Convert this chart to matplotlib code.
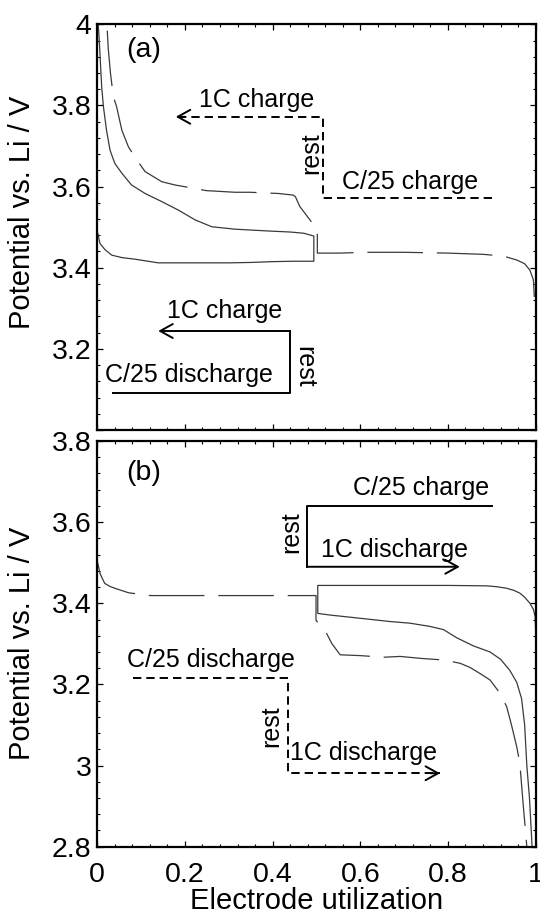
import matplotlib
matplotlib.use("Agg")
import matplotlib.pyplot as plt
from matplotlib.ticker import FixedLocator, AutoMinorLocator

plt.rcParams['font.family'] = ['Liberation Sans', 'DejaVu Sans']
plt.rcParams['lines.scale_dashes'] = False

# ---------------- data ----------------
# Panel (a) solid: C/25 discharge -> rest -> 1C charge
a_solid_x = [0.001, 0.006, 0.018, 0.033, 0.056, 0.086, 0.139, 0.20, 0.30, 0.35, 0.40, 0.45, 0.494,
             0.494,
             0.471, 0.44, 0.40, 0.348, 0.314, 0.261, 0.223, 0.185, 0.147, 0.109, 0.078, 0.056,
             0.040, 0.029, 0.021, 0.014, 0.010, 0.006, 0.004, 0.002]
a_solid_y = [3.485, 3.460, 3.444, 3.431, 3.425, 3.421, 3.412, 3.412, 3.412, 3.413, 3.415, 3.416, 3.416,
             3.478,
             3.485, 3.488, 3.490, 3.493, 3.495, 3.501, 3.518, 3.542, 3.563, 3.583, 3.604, 3.633,
             3.657, 3.690, 3.739, 3.797, 3.846, 3.929, 3.970, 4.000]

# Panel (a) dashed: C/25 charge -> rest -> 1C charge
a_dash_x = [0.997, 0.995, 0.987, 0.975, 0.957, 0.935, 0.923, 0.88, 0.80, 0.70, 0.62, 0.55, 0.505,
            0.502, 0.502,
            0.485, 0.462, 0.452, 0.447, 0.413, 0.348, 0.314, 0.249, 0.219, 0.177, 0.147, 0.109,
            0.090, 0.071, 0.056, 0.044, 0.0365, 0.030, 0.025, 0.022]
a_dash_y = [3.328, 3.370, 3.394, 3.410, 3.419, 3.426, 3.429, 3.433, 3.436, 3.438, 3.438, 3.436, 3.436,
            3.436, 3.493,
            3.518, 3.551, 3.575, 3.579, 3.583, 3.586, 3.586, 3.590, 3.596, 3.604, 3.612, 3.637,
            3.666, 3.698, 3.739, 3.797, 3.822, 3.880, 3.940, 4.000]

# Panel (b) solid: C/25 charge -> rest -> 1C discharge
b_solid_x = [1.0, 0.999, 0.995, 0.987, 0.975, 0.964, 0.95, 0.934, 0.91, 0.888, 0.80, 0.70, 0.60, 0.503,
             0.503,
             0.531, 0.60, 0.668, 0.713, 0.759, 0.79, 0.82, 0.858, 0.896, 0.92, 0.941, 0.957,
             0.968, 0.975, 0.980, 0.986, 0.992]
b_solid_y = [3.334, 3.367, 3.385, 3.400, 3.415, 3.425, 3.432, 3.437, 3.441, 3.443, 3.444, 3.444, 3.444, 3.444,
             3.375,
             3.371, 3.363, 3.355, 3.351, 3.343, 3.335, 3.315, 3.295, 3.280, 3.262, 3.235, 3.205,
             3.165, 3.100, 3.000, 2.920, 2.800]

# Panel (b) dashed: C/25 discharge -> rest -> 1C discharge
b_dash_x = [0.0, 0.003, 0.006, 0.012, 0.017, 0.028, 0.040, 0.071, 0.120, 0.20, 0.272, 0.348, 0.42, 0.489, 0.499,
            0.499,
            0.508, 0.523, 0.535, 0.554, 0.60, 0.653, 0.691, 0.74, 0.793, 0.828, 0.85, 0.873, 0.896,
            0.919, 0.934, 0.945, 0.957, 0.964, 0.972, 0.976, 0.980]
b_dash_y = [3.503, 3.490, 3.474, 3.460, 3.449, 3.442, 3.437, 3.426, 3.419, 3.419, 3.419, 3.419, 3.419, 3.419, 3.419,
            3.358,
            3.346, 3.326, 3.301, 3.273, 3.271, 3.267, 3.269, 3.264, 3.260, 3.252, 3.242, 3.227, 3.211,
            3.178, 3.145, 3.100, 3.046, 3.006, 2.900, 2.850, 2.800]

x_ticks = [0, 0.2, 0.4, 0.6, 0.8, 1.0]
x_tick_labels = ['0', '0.2', '0.4', '0.6', '0.8', '1']
a_y_ticks = [3.0, 3.2, 3.4, 3.6, 3.8, 4.0]
a_y_tick_labels = ['', '3.2', '3.4', '3.6', '3.8', '4']
b_y_ticks = [2.8, 3.0, 3.2, 3.4, 3.6, 3.8]
b_y_tick_labels = ['2.8', '3', '3.2', '3.4', '3.6', '3.8']

# ---------------- figure ----------------
W, H = 540, 916
fig = plt.figure(figsize=(W / 100, H / 100), dpi=100)
L, AW = 97.3 / W, 438.3 / W
ax1 = fig.add_axes([L, 1 - 430 / H, AW, 405.7 / H])
ax2 = fig.add_axes([L, 1 - 846.7 / H, AW, 405.7 / H])

curve_col = '#3a3a3a'
curve_lw = 0.9
long_dash = (40, 10)

ax1.plot(a_solid_x, a_solid_y, color=curve_col, lw=curve_lw)
ax1.plot(a_dash_x, a_dash_y, color=curve_col, lw=curve_lw, dashes=long_dash)
ax2.plot(b_solid_x, b_solid_y, color=curve_col, lw=curve_lw)
ax2.plot(b_dash_x, b_dash_y, color=curve_col, lw=curve_lw, dashes=long_dash)

tick_fs = 20.5
for ax, yt, ytl, ylim in [(ax1, a_y_ticks, a_y_tick_labels, (3.0, 4.0)),
                          (ax2, b_y_ticks, b_y_tick_labels, (2.8, 3.8))]:
    ax.set_xlim(0, 1)
    ax.set_ylim(*ylim)
    ax.xaxis.set_major_locator(FixedLocator(x_ticks))
    ax.yaxis.set_major_locator(FixedLocator(yt))
    ax.set_yticklabels(ytl)
    ax.xaxis.set_minor_locator(AutoMinorLocator(5))
    ax.yaxis.set_minor_locator(AutoMinorLocator(5))
    ax.tick_params(which='both', direction='in', top=True, right=True, labelsize=tick_fs)
    ax.tick_params(axis='y', pad=4)
    ax.tick_params(axis='x', pad=11)
    ax.tick_params(which='major', length=4, width=0.9)
    ax.tick_params(which='minor', length=2, width=0.8)
    for s in ax.spines.values():
        s.set_linewidth(1.6)
    ax.set_ylabel('Potential vs. Li / V', fontsize=21)

ax1.set_xticklabels([])
ax2.set_xticklabels(x_tick_labels)
ax2.set_xlabel('Electrode utilization', fontsize=21, labelpad=-1)
ax1.yaxis.set_label_coords(-0.14, 0.537)
ax2.yaxis.set_label_coords(-0.14, 0.5)

ax1.text(0.105, 3.937, '(a)', fontsize=20.5, ha='center', va='center')
ax2.text(0.105, 3.72, '(b)', fontsize=20.5, ha='center', va='center')

ann_fs = 18
ann_lw = 1.4
sdash = (6, 3.6)
head = dict(arrowstyle='->,head_length=0.45,head_width=0.25', lw=ann_lw, color='black',
            mutation_scale=20, shrinkA=0, shrinkB=0)


def arrow_head(ax, tip, tail):
    ax.annotate('', xy=tip, xytext=tail, arrowprops=head)


# Panel (a) dashed annotation: C/25 charge -> rest -> 1C charge
ax1.plot([0.900, 0.516, 0.516, 0.179], [3.571, 3.571, 3.772, 3.772], color='black', lw=ann_lw, dashes=sdash)
arrow_head(ax1, (0.179, 3.772), (0.20, 3.772))
ax1.text(0.363, 3.813, '1C charge', fontsize=ann_fs, ha='center', va='center')
ax1.text(0.487, 3.682, 'rest', fontsize=ann_fs, ha='center', va='center', rotation=90)
ax1.text(0.713, 3.612, 'C/25 charge', fontsize=ann_fs, ha='center', va='center')

# Panel (a) solid annotation: C/25 discharge -> rest -> 1C charge
ax1.annotate('', xy=(0.139, 3.244), xytext=(0.44, 3.244), arrowprops=head)
ax1.plot([0.0365, 0.44, 0.44], [3.092, 3.092, 3.244], color='black', lw=ann_lw)
ax1.text(0.29, 3.294, '1C charge', fontsize=ann_fs, ha='center', va='center')
ax1.text(0.472, 3.156, 'rest', fontsize=ann_fs, ha='center', va='center', rotation=270)
ax1.text(0.2095, 3.136, 'C/25 discharge', fontsize=ann_fs, ha='center', va='center')

# Panel (b) solid annotation: C/25 charge -> rest -> 1C discharge
ax2.plot([0.900, 0.478, 0.478], [3.640, 3.640, 3.490], color='black', lw=ann_lw)
ax2.annotate('', xy=(0.827, 3.490), xytext=(0.478, 3.490), arrowprops=head)
ax2.text(0.738, 3.683, 'C/25 charge', fontsize=ann_fs, ha='center', va='center')
ax2.text(0.443, 3.576, 'rest', fontsize=ann_fs, ha='center', va='center', rotation=90)
ax2.text(0.679, 3.531, '1C discharge', fontsize=ann_fs, ha='center', va='center')

# Panel (b) dashed annotation: C/25 discharge -> rest -> 1C discharge
ax2.plot([0.082, 0.436, 0.436, 0.782], [3.215, 3.215, 2.981, 2.981], color='black', lw=ann_lw, dashes=sdash)
arrow_head(ax2, (0.782, 2.981), (0.76, 2.981))
ax2.text(0.259, 3.26, 'C/25 discharge', fontsize=ann_fs, ha='center', va='center')
ax2.text(0.396, 3.096, 'rest', fontsize=ann_fs, ha='center', va='center', rotation=90)
ax2.text(0.608, 3.03, '1C discharge', fontsize=ann_fs, ha='center', va='center')

fig.savefig('out.png', dpi=100)
